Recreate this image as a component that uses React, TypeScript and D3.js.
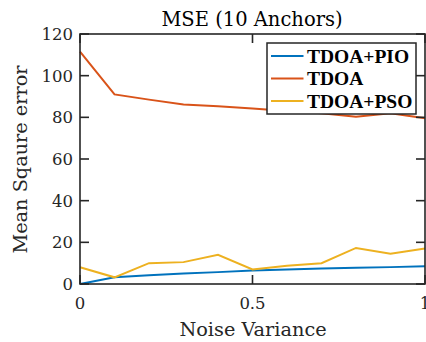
import React from "react";
import * as d3 from "d3";

const noise = [0, 0.1, 0.2, 0.3, 0.4, 0.5, 0.6, 0.7, 0.8, 0.9, 1.0];
const pio = [0, 3.2, 4.2, 5.0, 5.7, 6.5, 7.0, 7.4, 7.8, 8.1, 8.5];
const tdoa = [111.5, 91, 88.5, 86.2, 85.3, 84.2, 83, 82, 80.3, 82, 79.6];
const pso = [8, 3.2, 10, 10.5, 14, 7, 8.8, 10, 17.3, 14.5, 17];
const xTicks = [0, 0.5, 1];
const yTicks = [0, 20, 40, 60, 80, 100, 120];

const series = [
  { name: "TDOA+PIO", values: pio, color: "#0072BD" },
  { name: "TDOA", values: tdoa, color: "#D95319" },
  { name: "TDOA+PSO", values: pso, color: "#EDB120" },
];

export default function App() {
  const width = 426;
  const height = 342;
  const margin = { top: 34, right: 1, bottom: 58, left: 80 };
  const axisColor = "#262626";
  const font = "'DejaVu Serif', serif";
  const legendFont = "'Liberation Serif', 'Times New Roman', serif";

  const x = d3.scaleLinear().domain([0, 1]).range([margin.left, width - margin.right]);
  const y = d3.scaleLinear().domain([0, 120]).range([height - margin.bottom, margin.top]);

  const line = d3
    .line<number>()
    .x((_, i) => x(noise[i]))
    .y((d) => y(d));

  const tick = 9;

  return (
    <svg
      width={width}
      height={height}
      style={{ position: "absolute", left: 0, top: 0, background: "white" }}
    >
      {/* lines */}
      {series.map((s) => (
        <path key={s.name} d={line(s.values) || ""} fill="none" stroke={s.color} strokeWidth={2} />
      ))}

      {/* box */}
      <rect
        x={x(0)}
        y={y(120)}
        width={x(1) - x(0)}
        height={y(0) - y(120)}
        fill="none"
        stroke={axisColor}
        strokeWidth={1.6}
      />

      {/* X ticks */}
      {xTicks.map((t) => (
        <g key={"x" + t}>
          <line x1={x(t)} x2={x(t)} y1={y(0)} y2={y(0) - tick} stroke={axisColor} strokeWidth={1.6} />
          <line x1={x(t)} x2={x(t)} y1={y(120)} y2={y(120) + tick} stroke={axisColor} strokeWidth={1.6} />
          <text
            x={x(t)}
            y={308.5}
            textAnchor="middle"
            style={{ fontFamily: font, fontSize: 16.5 }}
            fill={axisColor}
          >
            {t}
          </text>
        </g>
      ))}

      {/* Y ticks */}
      {yTicks.map((t) => (
        <g key={"y" + t}>
          <line x1={x(0)} x2={x(0) + tick} y1={y(t)} y2={y(t)} stroke={axisColor} strokeWidth={1.6} />
          <line x1={x(1)} x2={x(1) - tick} y1={y(t)} y2={y(t)} stroke={axisColor} strokeWidth={1.6} />
          <text
            x={x(0) - 7}
            y={y(t)}
            dy="0.36em"
            textAnchor="end"
            style={{ fontFamily: font, fontSize: 16.5 }}
            fill={axisColor}
          >
            {t}
          </text>
        </g>
      ))}

      {/* title */}
      <text x={252} y={26} textAnchor="middle" style={{ fontFamily: font, fontSize: 19.5 }} fill="#000">
        MSE (10 Anchors)
      </text>

      {/* axis labels */}
      <text x={253} y={336} textAnchor="middle" style={{ fontFamily: font, fontSize: 19.3 }} fill={axisColor}>
        Noise Variance
      </text>
      <text
        transform={`translate(27,159.5) rotate(-90)`}
        textAnchor="middle"
        style={{ fontFamily: font, fontSize: 19.3 }}
        fill={axisColor}
      >
        Mean Sqaure error
      </text>

      {/* legend */}
      <g transform="translate(267,43)">
        <rect x={0} y={0} width={149} height={71} fill="white" stroke={axisColor} strokeWidth={1.5} />
        {series.map((s, i) => (
          <g key={s.name} transform={`translate(0,${13 + i * 22.5})`}>
            <line x1={4} x2={36.5} y1={0} y2={0} stroke={s.color} strokeWidth={2} />
            <text
              x={40}
              y={0}
              dy="0.35em"
              style={{ fontFamily: legendFont, fontSize: 19.5, fontWeight: "bold" }}
              fill="#000"
            >
              {s.name}
            </text>
          </g>
        ))}
      </g>
    </svg>
  );
}
